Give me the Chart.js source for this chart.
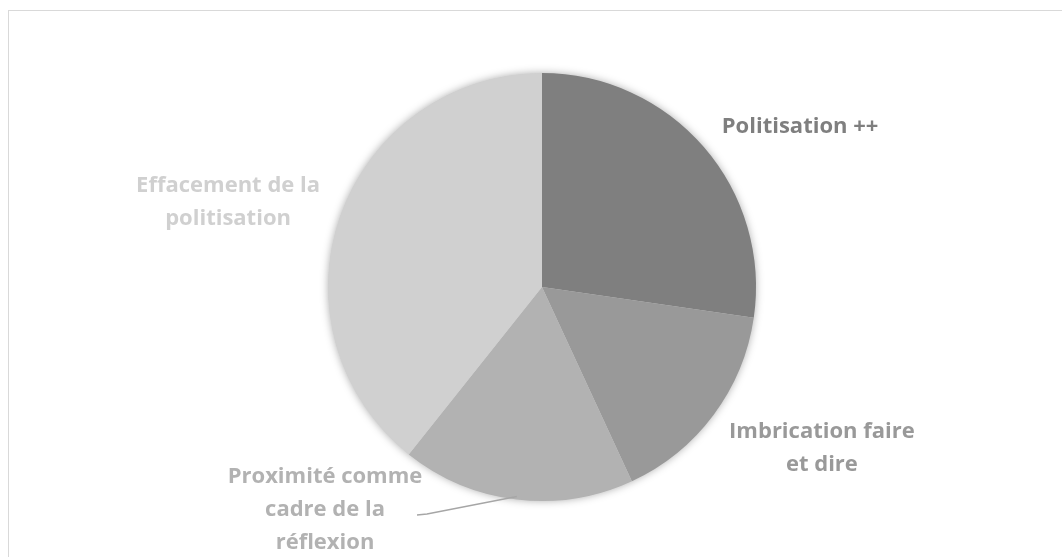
<!DOCTYPE html>
<html lang="fr">
<head>
<meta charset="utf-8">
<script src="https://cdn.jsdelivr.net/npm/chart.js@4.4.1/dist/chart.umd.min.js"></script>
<style>
  html, body { margin: 0; padding: 0; background: #fff; overflow: hidden; }
  #frame { position: absolute; left: 8px; top: 10px; width: 1200px; height: 700px; border: 1px solid #d9d9d9; }
  #wrap { position: absolute; left: 0; top: 0; width: 1062px; height: 557px; }
</style>
</head>
<body>
<div id="frame"></div>
<div id="wrap"><canvas id="pie"></canvas></div>
<script>
const categories = ['Politisation ++', 'Imbrication faire et dire', 'Proximité comme cadre de la réflexion', 'Effacement de la politisation'];
const values = [27.3, 15.8, 17.6, 39.3];
const sliceColors = ['#7f7f7f', '#999999', '#b2b2b2', '#d0d0d0'];
const labelLines = [
  ['Politisation ++'],
  ['Imbrication faire', 'et dire'],
  ['Proximité comme', 'cadre de la', 'réflexion'],
  ['Effacement de la', 'politisation']
];

// label centres, in radii from the pie centre
const labelSpots = [[1.206, -0.748], [1.308, 0.752], [-1.014, 1.042], [-1.467, -0.397]];

const pieShadow = {
  id: 'pieShadow',
  beforeDatasetsDraw(chart){
    const arc = chart.getDatasetMeta(0).data[0];
    if(!arc) return;
    const ctx = chart.ctx;
    ctx.save();
    ctx.shadowColor = 'rgba(0,0,0,0.35)';
    ctx.shadowBlur = 9;
    ctx.fillStyle = '#d0d0d0';
    ctx.beginPath();
    ctx.arc(arc.x, arc.y, arc.outerRadius - 0.5, 0, Math.PI * 2);
    ctx.fill();
    ctx.restore();
  }
};

const outsideLabels = {
  id: 'outsideLabels',
  afterDatasetsDraw(chart){
    const arcs = chart.getDatasetMeta(0).data;
    const ctx = chart.ctx;
    const lh = 33;
    ctx.save();
    ctx.font = 'bold 22px "Open Sans", sans-serif';
    ctx.textAlign = 'center';
    ctx.textBaseline = 'middle';
    arcs.forEach((arc, i) => {
      const r = arc.outerRadius;
      const cx = arc.x + labelSpots[i][0] * r;
      const cy = arc.y + labelSpots[i][1] * r;
      const lines = labelLines[i];
      ctx.fillStyle = sliceColors[i];
      lines.forEach((t, k) => {
        ctx.fillText(t, cx, cy + (k - (lines.length - 1) / 2) * lh);
      });
      // leader line for the label sitting under the pie
      if(i === 2){
        const mid = (arc.startAngle + arc.endAngle) / 2;
        const ex = arc.x + Math.cos(mid) * (r - 3);
        const ey = arc.y + Math.sin(mid) * (r - 3);
        const sx = cx + 92;
        const sy = cy + 5;
        ctx.strokeStyle = '#a6a6a6';
        ctx.lineWidth = 1.3;
        ctx.beginPath();
        ctx.moveTo(sx, sy);
        ctx.lineTo(sx + 10, sy - 1);
        ctx.lineTo(ex, ey);
        ctx.stroke();
      }
    });
    ctx.restore();
  }
};

new Chart(document.getElementById('pie').getContext('2d'), {
  type: 'pie',
  data: {
    labels: categories,
    datasets: [{
      data: values,
      backgroundColor: sliceColors,
      borderWidth: 0,
      hoverOffset: 0
    }]
  },
  options: {
    responsive: true,
    maintainAspectRatio: false,
    animation: false,
    layout: { padding: { top: 73, bottom: 56, left: 22, right: 0 } },
    plugins: { legend: { display: false }, tooltip: { enabled: false } }
  },
  plugins: [pieShadow, outsideLabels]
});
</script>
</body>
</html>
